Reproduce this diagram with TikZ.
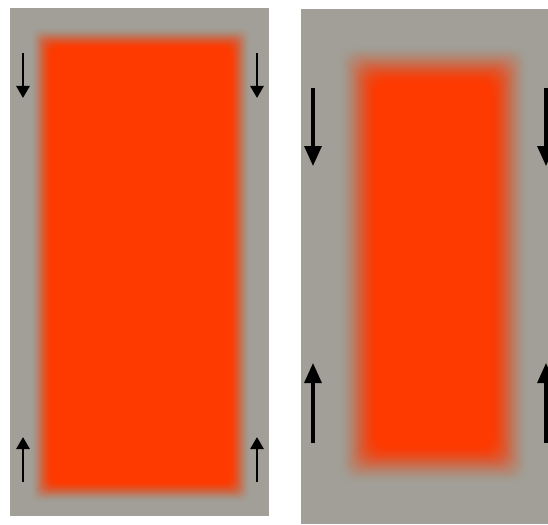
\documentclass[tikz,border=0pt]{standalone}
\usetikzlibrary{arrows.meta}
\definecolor{panelgray}{RGB}{161,159,151}
\definecolor{hotred}{RGB}{255,58,0}
\begin{document}
\begin{tikzpicture}[x=1pt,y=-1pt,
  smallarr/.style={line width=2.7pt,-{Triangle[length=12pt,width=13pt]}},
  bigarr/.style={line width=3.2pt,-{Triangle[length=20pt,width=17pt]}}]
\useasboundingbox (0,0) rectangle (548,524);
\clip (0,0) rectangle (548,524);
\fill[white] (0,0) rectangle (548,524);
\fill[panelgray] (10,8) rectangle (269,516);
\fill[panelgray] (301,9) rectangle (548,524);
% left blurred block (smoothstep edge profile)
\foreach \i in {0,...,21}{
  \pgfmathsetmacro{\ta}{\i/22}
  \pgfmathsetmacro{\tb}{(\i+1)/22}
  \pgfmathsetmacro{\ca}{3*\ta*\ta-2*\ta*\ta*\ta}
  \pgfmathsetmacro{\cb}{3*\tb*\tb-2*\tb*\tb*\tb}
  \pgfmathsetmacro{\op}{min(1,(\cb-\ca)/(1-\ca))}
  \fill[hotred, opacity=\op, rounded corners=8pt] ({31+\i},{28+\i}) rectangle ({250-\i},{502-\i});
}
% right blurred block
\foreach \i in {0,...,19}{
  \pgfmathsetmacro{\ta}{\i/20}
  \pgfmathsetmacro{\tb}{(\i+1)/20}
  \pgfmathsetmacro{\ca}{3*\ta*\ta-2*\ta*\ta*\ta}
  \pgfmathsetmacro{\cb}{3*\tb*\tb-2*\tb*\tb*\tb}
  \pgfmathsetmacro{\op}{min(1,(\cb-\ca)/(1-\ca))}
  \fill[hotred, opacity=\op, rounded corners=14pt] ({339+2*\i},{46+2*\i}) rectangle ({528-2*\i},{483-2*\i});
}
% arrows, left panel
\coordinate (a1s) at (23,53);  \coordinate (a1e) at (23,98);
\coordinate (a2s) at (257,53); \coordinate (a2e) at (257,98);
\coordinate (a3s) at (23,482); \coordinate (a3e) at (23,437);
\coordinate (a4s) at (257,482);\coordinate (a4e) at (257,437);
\draw[smallarr] (a1s) -- (a1e);
\draw[smallarr] (a2s) -- (a2e);
\draw[smallarr] (a3s) -- (a3e);
\draw[smallarr] (a4s) -- (a4e);
% arrows, right panel
\coordinate (b1s) at (313,88);  \coordinate (b1e) at (313,166);
\coordinate (b2s) at (546,88);  \coordinate (b2e) at (546,166);
\coordinate (b3s) at (313,443); \coordinate (b3e) at (313,363);
\coordinate (b4s) at (546,443); \coordinate (b4e) at (546,363);
\draw[bigarr] (b1s) -- (b1e);
\draw[bigarr] (b2s) -- (b2e);
\draw[bigarr] (b3s) -- (b3e);
\draw[bigarr] (b4s) -- (b4e);
\end{tikzpicture}
\end{document}
